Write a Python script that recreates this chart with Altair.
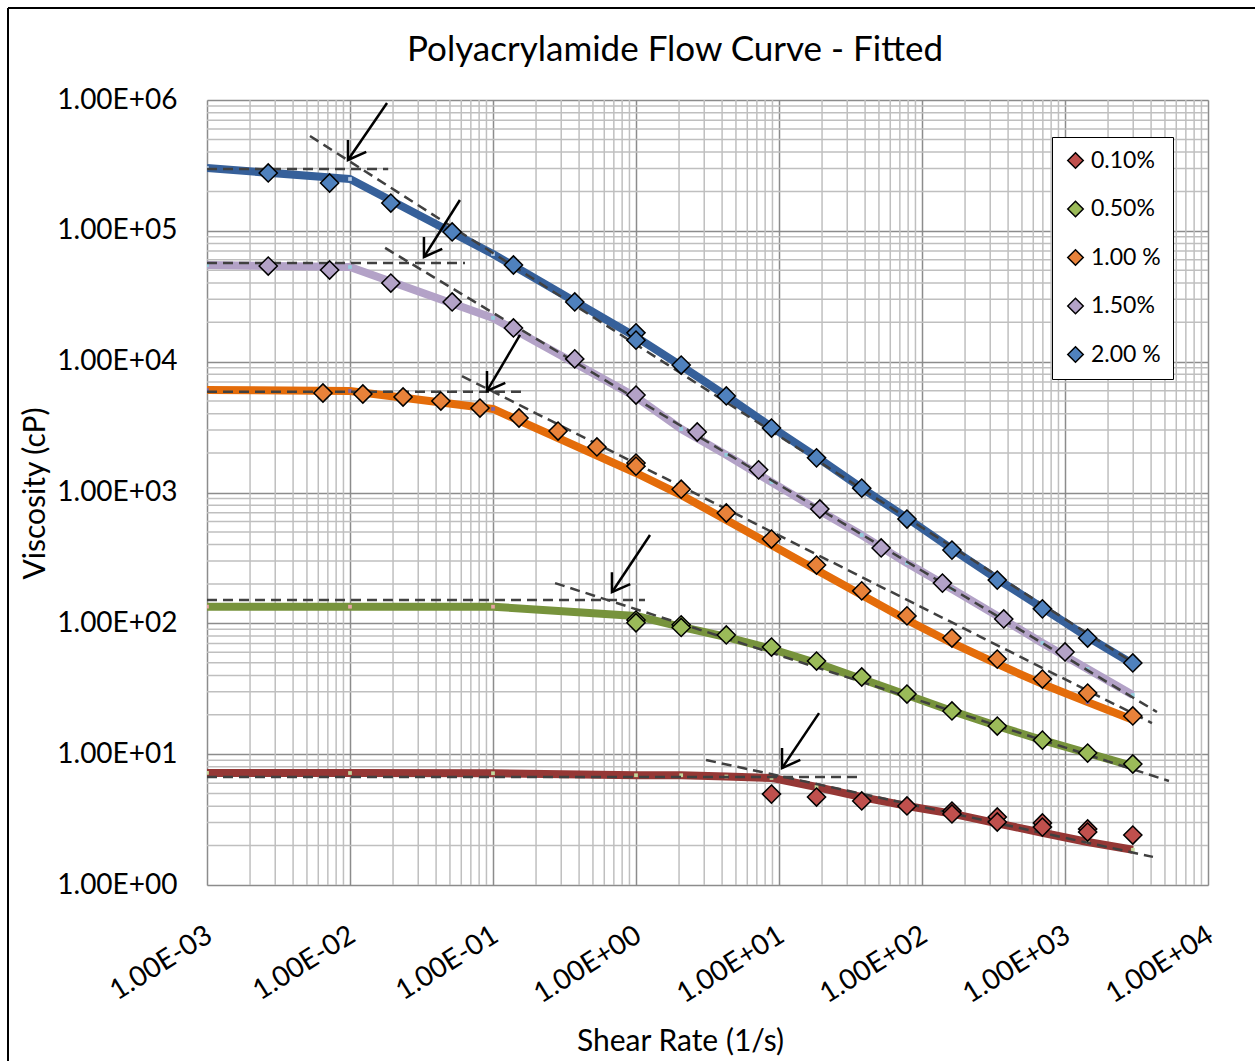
import altair as alt
import pandas as pd

SERIES = ["0.10%", "0.50%", "1.00 %", "1.50%", "2.00 %"]
MARKER_FILL = ["#C0504D", "#9BBB59", "#E8823A", "#B3A2C7", "#4F81BD"]
LINE_COLOR = ["#953735", "#77933C", "#E46C0A", "#B3A2C7", "#36609A"]
VERTEX_COLOR = ["#C3D69B", "#E6A5A3", "#8064A2", "#93CDDD", "#B9CDE5"]

TITLE = "Polyacrylamide Flow Curve - Fitted"
X_TITLE = "Shear Rate (1/s)"
Y_TITLE = "Viscosity (cP)"

X_TICKS = [0.001, 0.01, 0.1, 1, 10, 100, 1000, 10000]
X_TICK_LABELS = ["1.00E-03", "1.00E-02", "1.00E-01", "1.00E+00",
                 "1.00E+01", "1.00E+02", "1.00E+03", "1.00E+04"]
Y_TICKS = [1, 10, 100, 1000, 10000, 100000, 1000000]
Y_TICK_LABELS = ["1.00E+00", "1.00E+01", "1.00E+02", "1.00E+03",
                 "1.00E+04", "1.00E+05", "1.00E+06"]

# measured data points (shear rate 1/s, viscosity cP)
x_010 = [8.86, 18.3, 37.9, 78.5, 162, 162, 336, 336, 695, 695, 1440, 1440, 2980]
y_010 = [4.95, 4.70, 4.39, 4.02, 3.67, 3.49, 3.31, 3.03, 2.98, 2.77, 2.68, 2.54, 2.41]
x_050 = [1.0, 1.0, 2.07, 2.07, 4.28, 8.86, 18.3, 37.9, 78.5, 162, 336, 695, 1440, 2980]
y_050 = [106, 101, 97.5, 93.0, 81.5, 65.9, 51.5, 38.9, 28.8, 21.4, 16.4, 12.8, 10.2, 8.41]
x_100 = [0.00647, 0.0123, 0.0235, 0.0432, 0.0811, 0.152, 0.285, 0.533, 1.0, 1.0,
         2.07, 4.28, 8.86, 18.3, 37.9, 78.5, 162, 336, 695, 1440, 2980]
y_100 = [5760, 5660, 5370, 5000, 4420, 3710, 2950, 2230, 1680, 1590,
         1060, 697, 441, 279, 177, 114, 77.2, 53.3, 37.5, 29.3, 19.6]
x_150 = [0.00268, 0.0072, 0.0193, 0.0518, 0.139, 0.373, 1.0, 2.68, 7.2, 19.3, 51.8, 139, 373, 1000]
y_150 = [53800, 50200, 39900, 28600, 18100, 10500, 5560, 2900, 1490, 748, 377, 203, 108, 60.4]
x_200 = [0.00268, 0.0072, 0.0193, 0.0518, 0.139, 0.373, 1.0, 1.0,
         2.07, 4.28, 8.86, 18.3, 37.9, 78.5, 162, 336, 695, 1440, 2980]
y_200 = [277000, 232000, 163000, 98000, 54800, 28600, 16600, 14600,
         9420, 5470, 3110, 1840, 1080, 627, 363, 214, 129, 77.2, 49.8]

# fitted curves
fit_x = [0.001, 0.01, 0.1, 1.0, 2.07, 4.28, 8.86, 18.3, 37.9, 78.5, 162, 336, 695, 1440, 2980]
fit_010 = [7.18, 7.18, 7.15, 6.9, 6.9, 6.75, 6.58, 5.61, 4.70, 4.02, 3.51, 2.96, 2.51, 2.13, 1.86]
fit_050 = [134, 134, 134, 114, 94, 78.6, 63.7, 49.8, 37.6, 28.3, 21.4, 16.4, 12.8, 10.2, 8.11]
fit_100 = [6070, 5970, 4350, 1410, 956, 617, 397, 256, 165, 106, 70.8, 48.9, 34.4, 25.0, 18.3]
fit_150 = [54800, 52900, 21600, 5370, 3060, 1940, 1200, 748, 473, 289, 183, 114, 70.8, 44.8, 28.3]
fit_200 = [302000, 249000, 66500, 15450, 9300, 5470, 3170, 1870, 1080, 638, 370, 218, 131, 78.6, 48.9]

# asymptote guide lines and arrows (order: 2.00, 1.50, 1.00, 0.50, 0.10)
zero_shear_end = [0.0185, 0.0637, 0.1675, 1.156, 36.8]
zero_shear_eta = [2.97e5, 5.68e4, 5.9e3, 151, 6.69]
power_x0 = [0.00525, 0.0176, 0.0607, 0.2716, 3.09]
power_y0 = [5.31e5, 7.4e4, 7.76e3, 203, 9.02]
power_x1 = [3184, 4395, 4055, 5333, 4121]
power_y1 = [48, 21.0, 17.3, 6.24, 1.64]
arrow_x0 = [0.01815, 0.0587, 0.1545, 1.253, 19.05]
arrow_y0 = [9.49e5, 1.72e5, 1.6e4, 473, 20.6]
arrow_x1 = [0.00968, 0.0329, 0.0908, 0.679, 10.5]
arrow_y1 = [3.48e5, 6.31e4, 5970, 173, 7.83]

FONT = "Lato"

# ---------- tables ----------
pts_x = [x_010, x_050, x_100, x_150, x_200]
pts_y = [y_010, y_050, y_100, y_150, y_200]
fits = [fit_010, fit_050, fit_100, fit_150, fit_200]

pts = pd.DataFrame([
    {"series": s, "x": xv, "y": yv}
    for s, xs, ys in zip(SERIES, pts_x, pts_y) for xv, yv in zip(xs, ys)
])
fit = pd.DataFrame([
    {"fseries": s, "lc": lc, "vc": vc, "x": xv, "y": yv, "o": i}
    for s, lc, vc, ys in zip(SERIES, LINE_COLOR, VERTEX_COLOR, fits)
    for i, (xv, yv) in enumerate(zip(fit_x, ys))
])
guides = pd.DataFrame(
    [{"x0": 0.001, "y0": e, "x1": xe, "y1": e} for xe, e in zip(zero_shear_end, zero_shear_eta)]
    + [{"x0": a, "y0": b, "x1": c, "y1": d} for a, b, c, d in zip(power_x0, power_y0, power_x1, power_y1)]
)
arrows = pd.DataFrame({"x0": arrow_x0, "y0": arrow_y0, "x1": arrow_x1, "y1": arrow_y1})
title_df = pd.DataFrame({"t": [TITLE]})

minor_x = pd.DataFrame({"v": [k * 10.0 ** d for d in range(-3, 4) for k in range(2, 10)]})
minor_y = pd.DataFrame({"v": [k * 10.0 ** d for d in range(0, 6) for k in range(2, 10)]})

# ---------- scales / axes ----------
xscale = alt.Scale(type="log", domain=[0.001, 10000], nice=False)
yscale = alt.Scale(type="log", domain=[1, 1000000], nice=False)

x_expr = "[" + ",".join("'%s'" % s for s in X_TICK_LABELS) + "][round(log(datum.value)/LN10) + 3]"
y_expr = "[" + ",".join("'%s'" % s for s in Y_TICK_LABELS) + "][round(log(datum.value)/LN10)]"

xaxis = alt.Axis(values=X_TICKS, labelExpr=x_expr, grid=True, gridColor="#8C8C8C", gridWidth=1.5,
                 ticks=False, domain=False, labelAngle=-32, labelAlign="right", labelBaseline="top",
                 labelFontSize=28, labelPadding=36, labelOffset=-5, labelColor="black", labelFont=FONT,
                 labelFlush=False, labelOverlap=False,
                 title=X_TITLE, titleFontSize=30, titleFontWeight="normal", titleFont=FONT,
                 titleColor="black", titleX=473, titleY=156, titleBaseline="middle", titleAlign="center")
yaxis = alt.Axis(values=Y_TICKS, labelExpr=y_expr, grid=True, gridColor="#8C8C8C", gridWidth=1.5,
                 ticks=False, domain=False, labelFontSize=28, labelPadding=30, labelColor="black",
                 labelFont=FONT, labelBaseline="middle", labelFlush=False, labelOverlap=False,
                 title=Y_TITLE, titleFontSize=30, titleFontWeight="normal", titleFont=FONT,
                 titleColor="black", titleX=-172, titleY=393, titleBaseline="middle", titleAlign="center")


def X(f):
    return alt.X(f, type="quantitative", scale=xscale, axis=xaxis)


def Y(f):
    return alt.Y(f, type="quantitative", scale=yscale, axis=yaxis)


grid_x = alt.Chart(minor_x).mark_rule(color="#BFBFBF", strokeWidth=1.5).encode(x=X("v"))
grid_y = alt.Chart(minor_y).mark_rule(color="#BFBFBF", strokeWidth=1.5).encode(y=Y("v"))

lines = alt.Chart(fit).mark_line(strokeWidth=8, strokeJoin="round", clip=True).encode(
    x=X("x"), y=Y("y"),
    stroke=alt.Stroke("lc:N", scale=None),
    detail="fseries:N", order="o:Q")

vertices = alt.Chart(fit).mark_point(shape="square", filled=True, size=14, opacity=1, clip=True).encode(
    x=X("x"), y=Y("y"),
    fill=alt.Fill("vc:N", scale=None))

guide_lines = alt.Chart(guides).mark_rule(color="#404040", strokeWidth=2.5, strokeDash=[10, 6], clip=True).encode(
    x=X("x0"), y=Y("y0"), x2="x1", y2="y1")

points = alt.Chart(pts).mark_point(shape="diamond", filled=True, size=330, stroke="black",
                                   strokeWidth=1.5, opacity=1, clip=True).encode(
    x=X("x"), y=Y("y"),
    color=alt.Color("series:N", scale=alt.Scale(domain=SERIES, range=MARKER_FILL),
                    legend=alt.Legend(title=None, orient="none", legendX=845, legendY=37,
                                      symbolType="diamond", symbolSize=240, symbolStrokeColor="black",
                                      symbolStrokeWidth=1.5, symbolOpacity=1, labelFontSize=23,
                                      labelFont=FONT, labelColor="black", rowPadding=24.5, padding=12,
                                      strokeColor="black", fillColor="white", labelOffset=4)))

shafts = alt.Chart(arrows).mark_rule(color="black", strokeWidth=2.5).encode(
    x=X("x0"), y=Y("y0"), x2="x1", y2="y1")
heads = alt.Chart(arrows).mark_point(shape="M -0.65 1 L 0 0 L 0.65 1", filled=False, size=1125,
                                     stroke="black", strokeWidth=2.5, angle=213, opacity=1).encode(
    x=X("x1"), y=Y("y1"))

title_mark = alt.Chart(title_df).mark_text(fontSize=35, font=FONT, color="black", align="center",
                                           baseline="middle").encode(
    text="t:N", x=alt.value(468), y=alt.value(-50))

border_left = alt.Chart(arrows).mark_rule(color="black", strokeWidth=1.5).encode(
    x=alt.value(-199), y=alt.value(-92), y2=alt.value(980))
border_top = alt.Chart(arrows).mark_rule(color="black", strokeWidth=1.5).encode(
    x=alt.value(-199), x2=alt.value(1100), y=alt.value(-92))

chart = alt.layer(grid_x, grid_y, lines, vertices, guide_lines, points, shafts, heads,
                  title_mark, border_left, border_top).properties(
    width=1001, height=785,
    padding={"left": 207, "top": 100, "right": 47, "bottom": 176},
    autosize=alt.AutoSizeParams(type="none"),
).configure_view(stroke="#868686", strokeWidth=1.5).configure(font=FONT, background="white")

chart.save("out.html", embed_options={"renderer": "svg", "actions": False})
